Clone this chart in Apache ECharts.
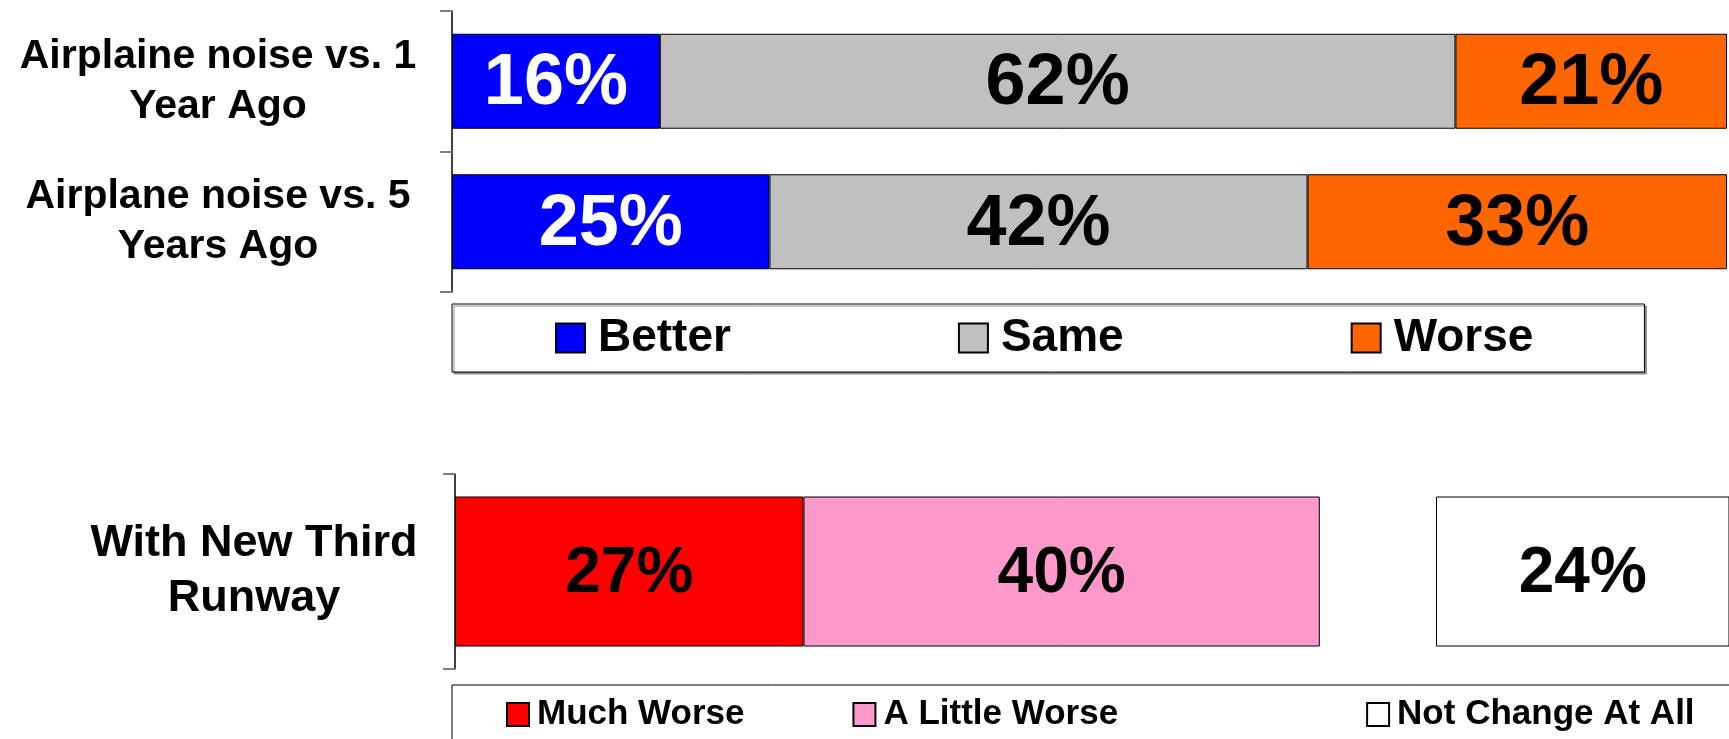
<!DOCTYPE html>
<html>
<head>
<meta charset="utf-8">
<title>Airplane noise</title>
<script src="https://cdn.jsdelivr.net/npm/echarts@6/dist/echarts.min.js"></script>
<style>
  html, body { margin: 0; padding: 0; background: #fff; }
  #main { width: 1729px; height: 739px; }
</style>
</head>
<body>
<div id="main"></div>
<script>
  // top chart: noise compared with the past
  var pastCategories = ['Airplaine noise vs. 1\nYear Ago', 'Airplane noise vs. 5\nYears Ago'];
  var better = [16.3, 24.9];
  var same = [62.4, 42.2];
  var worse = [21.3, 32.9];

  // bottom chart: with the new runway
  var runwayCategories = ['With New Third\nRunway'];
  var muchWorse = [27];
  var littleWorse = [40];
  var unanswered = [9];   // blank part of the bar between the two groups
  var noChange = [24];

  var FONT = 'Liberation Sans, Arial, sans-serif';

  function pct(p) {
    return Math.round(p.value) + '%';
  }

  function barLabel(color, size) {
    return {
      show: true,
      position: 'inside',
      offset: [0, 3],
      formatter: pct,
      color: color,
      fontSize: size,
      fontWeight: 'bold',
      fontFamily: FONT
    };
  }

  function catAxis(gridIndex, data, margin, fontSize, lineHeight) {
    return {
      type: 'category',
      gridIndex: gridIndex,
      data: data,
      inverse: true,
      axisLine: { show: true, lineStyle: { color: '#000', width: 1.5 } },
      axisTick: { show: true, length: 12, lineStyle: { color: '#7f7f7f', width: 2 } },
      axisLabel: {
        margin: margin,
        align: 'center',
        padding: [6, 0, 0, 0],
        color: '#000',
        fontSize: fontSize,
        lineHeight: lineHeight,
        fontWeight: 'bold',
        fontFamily: FONT
      },
      splitLine: { show: false }
    };
  }

  function valAxis(gridIndex, max) {
    return {
      type: 'value',
      gridIndex: gridIndex,
      min: 0,
      max: max,
      show: false
    };
  }

  var border = { borderColor: '#000', borderWidth: 1 };

  var option = {
    backgroundColor: '#fff',
    animation: false,
    grid: [
      { left: 452, top: 11, width: 1275, height: 281 },
      // the bottom bar runs past the right edge of the picture
      { left: 455, top: 474, width: 1274, height: 195 }
    ],
    xAxis: [valAxis(0, 100), valAxis(1, 98.7)],
    yAxis: [
      catAxis(0, pastCategories, 234, 41, 50),
      catAxis(1, runwayCategories, 201, 45, 55)
    ],
    legend: [{
      data: ['Better', 'Same', 'Worse'],
      left: 452,
      top: 304,
      padding: [11, 111, 11, 103],
      itemWidth: 29,
      itemHeight: 29,
      itemGap: 227,
      icon: 'rect',
      borderColor: '#000',
      borderWidth: 1,
      backgroundColor: '#fff',
      shadowColor: '#8c8c8c',
      shadowBlur: 0,
      shadowOffsetX: 2,
      shadowOffsetY: 2,
      textStyle: {
        color: '#000',
        fontSize: 46,
        lineHeight: 46,
        fontWeight: 'bold',
        fontFamily: FONT,
        padding: [0, 0, 0, 8]
      }
    }, {
      data: [
        'Much Worse',
        { name: 'A Little Worse', textStyle: { padding: [0, 140, 0, 3] } },
        'Not Change At All'
      ],
      left: 452,
      top: 685,
      width: 1500,
      padding: [12, 200, 60, 54],
      itemWidth: 22,
      itemHeight: 23,
      itemGap: 108,
      icon: 'rect',
      borderColor: '#000',
      borderWidth: 1,
      backgroundColor: '#fff',
      textStyle: {
        color: '#000',
        fontSize: 35,
        lineHeight: 35,
        fontWeight: 'bold',
        fontFamily: FONT,
        padding: [0, 0, 0, 3]
      }
    }],
    series: [{
      name: 'Better',
      type: 'bar',
      stack: 'past',
      xAxisIndex: 0,
      yAxisIndex: 0,
      barWidth: 95,
      data: better,
      itemStyle: Object.assign({ color: '#0000ff' }, border),
      label: barLabel('#fff', 72)
    }, {
      name: 'Same',
      type: 'bar',
      stack: 'past',
      xAxisIndex: 0,
      yAxisIndex: 0,
      barWidth: 95,
      data: same,
      itemStyle: Object.assign({ color: '#c0c0c0' }, border),
      label: barLabel('#000', 72)
    }, {
      name: 'Worse',
      type: 'bar',
      stack: 'past',
      xAxisIndex: 0,
      yAxisIndex: 0,
      barWidth: 95,
      data: worse,
      itemStyle: Object.assign({ color: '#ff6600' }, border),
      label: barLabel('#000', 72)
    }, {
      name: 'Much Worse',
      type: 'bar',
      stack: 'runway',
      xAxisIndex: 1,
      yAxisIndex: 1,
      barWidth: 150,
      data: muchWorse,
      itemStyle: Object.assign({ color: '#ff0000' }, border),
      label: barLabel('#000', 64)
    }, {
      name: 'A Little Worse',
      type: 'bar',
      stack: 'runway',
      xAxisIndex: 1,
      yAxisIndex: 1,
      barWidth: 150,
      data: littleWorse,
      itemStyle: Object.assign({ color: '#ff99cc' }, border),
      label: barLabel('#000', 64)
    }, {
      name: 'gap',
      type: 'bar',
      stack: 'runway',
      xAxisIndex: 1,
      yAxisIndex: 1,
      barWidth: 150,
      data: unanswered,
      silent: true,
      itemStyle: { color: 'rgba(0,0,0,0)', borderWidth: 0 },
      label: { show: false }
    }, {
      name: 'Not Change At All',
      type: 'bar',
      stack: 'runway',
      xAxisIndex: 1,
      yAxisIndex: 1,
      barWidth: 150,
      data: noChange,
      itemStyle: Object.assign({ color: '#ffffff' }, border),
      label: barLabel('#000', 64)
    }]
  };

  var myChart = echarts.init(document.getElementById('main'));
  myChart.setOption(option);
</script>
</body>
</html>
